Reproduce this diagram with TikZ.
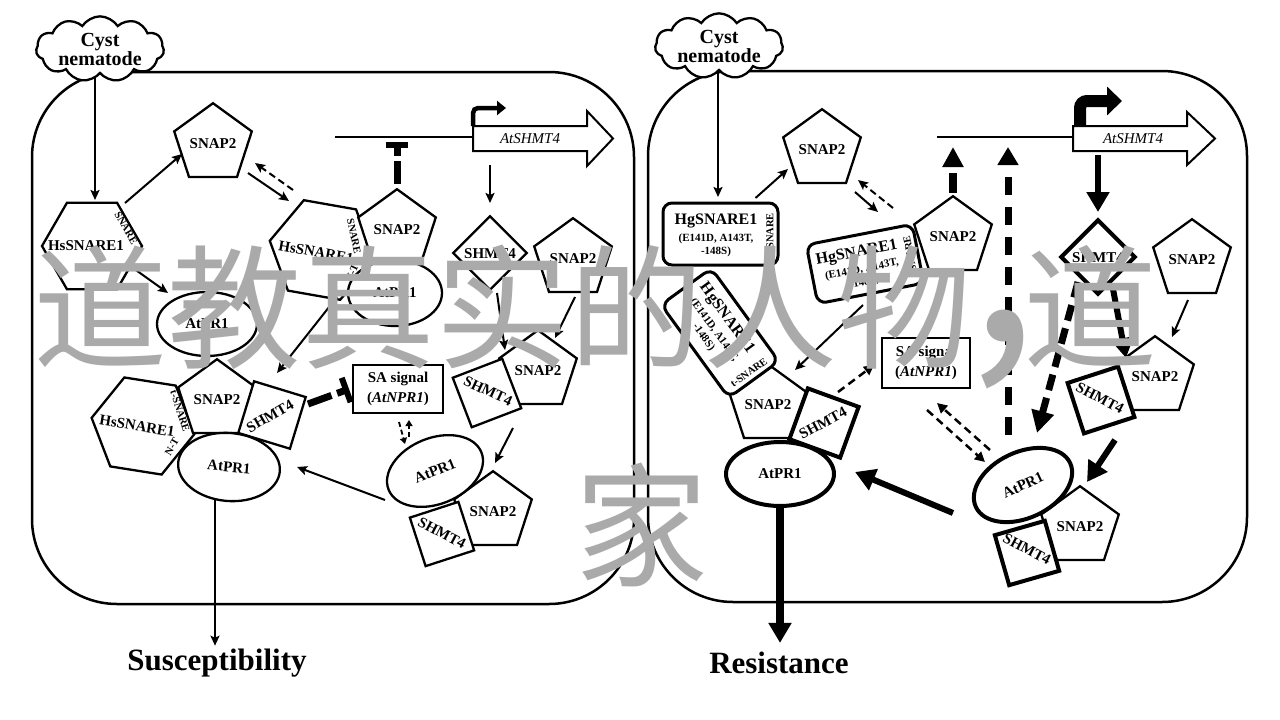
\documentclass[tikz,border=0pt]{standalone}
\usepackage{fontspec}
\setmainfont{Liberation Serif}
\newfontfamily\cjk{Noto Sans CJK SC}
\usetikzlibrary{arrows.meta,shapes.geometric,shapes.symbols,calc}
\newcommand\fsz[2]{\fontsize{#1}{#2}\selectfont}
\definecolor{wm}{RGB}{170,170,170}
\begin{document}
\begin{tikzpicture}[x=1pt,y=-1pt,
  shp/.style={draw,line width=2.3pt,fill=white,inner sep=0pt,outer sep=0pt},
  pent/.style={shp,regular polygon,regular polygon sides=5,minimum size=74pt,font=\fsz{15}{17}\bfseries},
  hexa/.style={shp,regular polygon,regular polygon sides=6,minimum size=#1},
  sqr/.style={shp,rectangle,minimum size=#1},
  ell/.style 2 args={shp,ellipse,minimum width=#1,minimum height=#2,font=\fsz{15}{17}\bfseries},
  tk/.style={line width=4pt},
  lbl/.style={inner sep=0pt,font=\fsz{15}{17}\bfseries},
  tinyl/.style={inner sep=0pt,font=\fsz{10.5}{12}\bfseries},
  hgname/.style={inner sep=0pt,font=\fsz{16}{18}\bfseries},
  hgmut/.style={inner sep=0pt,font=\fsz{11}{12}\bfseries},
  cell/.style={draw,line width=2.5pt,rounded corners=85pt,inner sep=0pt},
  cyst/.style={cloud,cloud puffs=11,cloud puff arc=115,aspect=2.4,draw,line width=2.3pt,fill=white,
     minimum width=128pt,minimum height=55pt,inner sep=0pt,align=center,font=\fsz{20}{19}\bfseries},
  arr/.style={line width=2pt,-{Stealth[length=10pt,width=9pt,inset=2pt]}},
  darr/.style={arr,dash pattern=on 7pt off 4pt},
  bigarr/.style={line width=6pt,-{Triangle[length=20pt,width=22pt]}},
  sabox/.style={draw,line width=2pt,fill=white,align=center,font=\fsz{15}{20}\bfseries,inner sep=0pt},
  hg/.style={draw,line width=3pt,rounded corners=9pt,fill=white,minimum width=115pt,minimum height=62pt,inner sep=0pt},
  gene/.style={inner sep=0pt,font=\fsz{15}{17}\itshape},
  outcome/.style={inner sep=0pt,font=\fsz{31}{33}\bfseries},
  wmark/.style={inner sep=0pt,text=wm,font=\cjk\fsz{134}{134}},
]
\useasboundingbox (0,0) rectangle (1280,720);
\fill[white] (0,0) rectangle (1280,720);

% ================= LEFT PANEL =================
\node[cell,minimum width=602pt,minimum height=532pt] (cellL) at (333,338) {};
\node[cyst] (cloudL) at (100,49) {Cyst\\nematode};

% gene
\coordinate (gLa) at (335,137);
\coordinate (gLb) at (473,137);
\draw[line width=2pt] (gLa) -- (gLb);
\draw[line width=2pt,fill=white] (473,126) -- (587,126) -- (587,111) -- (613,138.5) -- (587,166) -- (587,151) -- (473,151) -- cycle;
\node[gene] (geneL) at (530,138.5) {AtSHMT4};
\draw[line width=4.5pt,rounded corners=5pt,-{Triangle[length=9pt,width=14pt]}] (473,126) -- (473,108) -- (506,108);

% top-left
\node[hexa=100pt] (hexL) at (92,246) {};
\node[lbl] at (86,246) {HsSNARE1};
\node[tinyl,rotate=-60] at (126,228) {SNARE};
\node[pent] (snapTL) at (213,144) {SNAP2};
\node[ell={100pt}{64pt}] (atprA) at (207,324) {AtPR1};

% middle complex
\node[hexa=106pt,rotate=-10] (hexM) at (322,250) {};
\node[lbl,rotate=-10] at (316,252) {HsSNARE1};
\node[tinyl,rotate=-78] at (354,236) {SNARE};
\node[tinyl,rotate=65] at (352,273) {N-T};
\node[pent] (snapM) at (397,230) {SNAP2};
\node[ell={94pt}{66pt}] (atprM) at (395,293) {AtPR1};

% diamond + snap
\node[sqr=52pt,rotate=45] (diamL) at (490,253) {};
\node[lbl] at (490,254) {SHMT4};
\node[pent] (snapDL) at (573,259) {SNAP2};

% pair
\node[pent] (snapPL) at (538,371) {SNAP2};
\node[sqr=53pt,rotate=21] (sqPL) at (487,393) {};
\node[lbl,rotate=-25] at (488,391) {SHMT4};

% bottom right complex
\node[pent] (snapBR) at (493,512) {SNAP2};
\node[sqr=51pt,rotate=18] (sqBR) at (442,534) {};
\node[lbl,rotate=-28] at (442,533) {SHMT4};
\node[ell={100pt}{66pt},rotate=22] (atprBR) at (435,471) {AtPR1};

% bottom left complex
\node[hexa=104pt,rotate=-9] (hexBL) at (143,426) {};
\node[lbl,rotate=-9] at (137,426) {HsSNARE1};
\node[tinyl,rotate=-72] at (180,411) {t-SNARE};
\node[tinyl,rotate=60] at (172,447) {N-T};
\node[pent] (snapBL) at (217,400) {SNAP2};
\node[sqr=54pt,rotate=-17] (sqBL) at (272,415) {};
\node[lbl,rotate=30] at (270,416) {SHMT4};
\node[ell={102pt}{68pt},rotate=-5] (atprBL) at (229,467) {AtPR1};

\node[sabox,minimum width=90pt,minimum height=48pt] (saL) at (398,389) {SA signal\\(\textit{AtNPR1})};
\node[outcome] (susc) at (217,663) {Susceptibility};

% connectors left
\draw[arr] ($(cloudL)+(-5,28)$) -- ($(hexL)+(3,-46)$);
\draw[arr] ($(hexL)+(33,-43)$) -- ($(snapTL)+(-31,10)$);
\draw[arr] ($(snapTL)+(35,29)$) -- ($(hexM)+(-33,-49)$);
\draw[darr] ($(hexM)+(-29,-60)$) -- ($(snapTL)+(42,19)$);
\draw[arr] ($(hexL)+(41,22)$) -- ($(atprA)+(-39,-31)$);
\draw[arr] ($(hexM)+(15,47)$) -- ($(sqBL)+(5,-42)$);
\draw[line width=7pt,dash pattern=on 23pt off 5pt,-{Bar[width=22pt,line width=6pt]}] ($(snapM)+(0,-46)$) -- ($(snapM)+(0,-88)$);
\draw[arr] ($(diamL)+(0,-88)$) -- ($(diamL)+(0,-50)$);
\draw[arr] ($(diamL)+(7,40)$) -- ($(sqPL)+(18,-43)$);
\draw[arr] ($(snapDL)+(2,38)$) -- ($(snapPL)+(17,-33)$);
\draw[line width=7pt,dash pattern=on 25pt off 6pt,-{Bar[width=26pt,line width=6pt]}] ($(sqBL)+(36,-11)$) -- ($(saL.west)+(-3,0)$);
\draw[line width=1.8pt,dash pattern=on 5pt off 3pt,-{Triangle[length=6pt,width=7pt]}] ($(atprBR)+(-26,-34)$) -- ($(saL)+(11,31)$);
\draw[line width=1.8pt,dash pattern=on 5pt off 3pt,-{Triangle[length=6pt,width=7pt]}] ($(saL)+(1,33)$) -- ($(atprBR)+(-30,-27)$);
\draw[arr] ($(atprBR)+(-50,29)$) -- ($(atprBL)+(68,0)$);
\draw[arr] ($(sqPL)+(26,35)$) -- ($(snapBR)+(2,-49)$);
\path ($(atprBL)+(-14,33)$) coordinate (sA);
\draw[arr,shorten >=3pt] (sA) -- (sA |- susc.north);

% ================= RIGHT PANEL =================
\node[cell,minimum width=599pt,minimum height=531pt] (cellR) at (947.5,336.5) {};
\node[cyst] (cloudR) at (719,46) {Cyst\\nematode};

\coordinate (gRa) at (937,137);
\coordinate (gRb) at (1073,137);
\draw[line width=2pt] (gRa) -- (gRb);
\draw[line width=2pt,fill=white] (1073,126) -- (1187,126) -- (1187,112) -- (1215,138.5) -- (1187,165) -- (1187,151) -- (1073,151) -- cycle;
\node[gene] (geneR) at (1133,138.5) {AtSHMT4};
\draw[line width=12pt,rounded corners=7pt,-{Triangle[length=15pt,width=28pt]}] (1080,126) -- (1080,101) -- (1122,101);

\node[hg] (boxTR) at (720.5,234) {};
\node[hgname] at (716,221) {HgSNARE1};
\node[hgmut] at (716,239) {(E141D, A143T,};
\node[hgmut] at (716,252) {-148S)};
\node[tinyl,rotate=90] at (770,231) {SNARE};

\node[pent] (snapTR) at (822,150) {SNAP2};

\begin{scope}[shift={(865,264)},rotate=11,transform shape]
  \node[hg,minimum width=108pt,minimum height=60pt] (boxMR) at (0,0) {};
  \node[hgname] at (-6,-12) {HgSNARE1};
  \node[hgmut] at (-4,5) {(E141D, A143T,};
  \node[hgmut] at (-4,18) {-148S)};
  \node[tinyl,rotate=90] at (46,-2) {SNARE};
\end{scope}
\node[pent] (snapMR) at (953,237) {SNAP2};

\node[sqr=52pt,rotate=45,tk] (diamR) at (1098,257) {};
\node[lbl] at (1098,258) {SHMT4};
\node[pent] (snapDR) at (1192,260) {SNAP2};

\node[pent] (snapPR) at (1155,377) {SNAP2};
\node[sqr=53pt,rotate=18,tk] (sqPR) at (1101,400) {};
\node[lbl,rotate=-28] at (1100,398) {SHMT4};

\node[pent] (snapBRR) at (1080,527) {SNAP2};
\node[sqr=52pt,rotate=16,tk] (sqBRR) at (1027,553) {};
\node[lbl,rotate=-28] at (1027,549) {SHMT4};
\node[ell={104pt}{66pt},rotate=25,tk] (atprR) at (1023,485) {AtPR1};

\node[sabox,minimum width=88pt,minimum height=50pt] (saR) at (926,363) {SA signal\\(\textit{AtNPR1})};

\node[pent] (snapBLR) at (768,405) {SNAP2};
\node[sqr=54pt,rotate=-20,tk] (sqBLR) at (824,423) {};
\node[lbl,rotate=28] at (823,423) {SHMT4};
\node[ell={108pt}{64pt},tk] (atprBLR) at (780,474) {AtPR1};
\begin{scope}[shift={(720,333)},rotate=-54,transform shape]
  \node[hg] (boxBL) at (0,0) {};
  \node[hgname] at (-8,-14) {HgSNARE1};
  \node[hgmut] at (-6,3) {(E141D, A143T,};
  \node[hgmut] at (-6,16) {-148S)};
  \node[tinyl,rotate=90] at (49,0) {t-SNARE};
\end{scope}

\node[outcome] (resist) at (779,663) {Resistance};

% connectors right
\draw[arr] ($(cloudR)+(-1,27)$) -- ($(boxTR)+(-2.5,-37)$);
\draw[arr] ($(boxTR)+(35,-36)$) -- ($(snapTR)+(-34,19)$);
\draw[arr] ($(snapTR)+(33,42)$) -- ($(boxMR)+(13,-52)$);
\draw[darr] ($(boxMR)+(28,-56)$) -- ($(snapTR)+(36,30)$);
\draw[line width=8pt,dash pattern=on 20pt off 6pt,-{Triangle[length=20pt,width=20pt]}] ($(snapMR)+(0,-44)$) -- ($(snapMR)+(0,-90)$);
\draw[line width=7pt,dash pattern=on 18pt off 12pt,-{Triangle[length=18pt,width=20pt]}] ($(atprR)+(-15,-50)$) -- ($(atprR)+(-15,-338)$);
\draw[bigarr] ($(diamR)+(0,-102)$) -- ($(diamR)+(0,-45)$);
\draw[arr] ($(snapDR)+(-4,40)$) -- ($(snapPR)+(17,-40)$);
\draw[bigarr] ($(diamR)+(15,32)$) -- ($(sqPR)+(25,-42)$);
\draw[line width=7pt,dash pattern=on 16pt off 8pt,-{Triangle[length=22pt,width=22pt]}] ($(diamR)+(-20,25)$) -- ($(atprR)+(14,-52)$);
\draw[bigarr] ($(sqPR)+(14,40)$) -- ($(snapBRR)+(7,-45)$);
\draw[bigarr] ($(atprR)+(-70,28)$) -- ($(atprBLR)+(75,-2)$);
\draw[line width=2.5pt,dash pattern=on 8pt off 5pt,-{Triangle[length=10pt,width=10pt]}] ($(atprR)+(-33,-35)$) -- ($(saR)+(11,40)$);
\draw[line width=2.5pt,dash pattern=on 8pt off 5pt,-{Triangle[length=10pt,width=10pt]}] ($(saR)+(1,47)$) -- ($(atprR)+(-38,-23)$);
\draw[line width=2.5pt,dash pattern=on 8pt off 5pt,-{Triangle[length=10pt,width=10pt]}] ($(sqBLR)+(14,-31)$) -- ($(saR.west)+(-7,2)$);
\draw[arr] ($(boxMR)+(-2,41)$) -- ($(snapBLR)+(27,-35)$);
\path ($(atprBLR)+(0,32)$) coordinate (rA);
\draw[line width=8pt,-{Triangle[length=20pt,width=22pt]},shorten >=9pt] (rA) -- (rA |- resist.north);

% ================= WATERMARK =================
\node[wmark,anchor=base west] (wm1) at (33,358) {道教真实的人物};
\node[wmark,anchor=base,font=\cjk\fsz{250}{250}] (wm2) at (1003,341) {,};
\node[wmark,anchor=base west] (wm3) at (1023,358) {道};
\node[wmark,anchor=base west] (wm4) at (574,576) {家};
\end{tikzpicture}
\end{document}
